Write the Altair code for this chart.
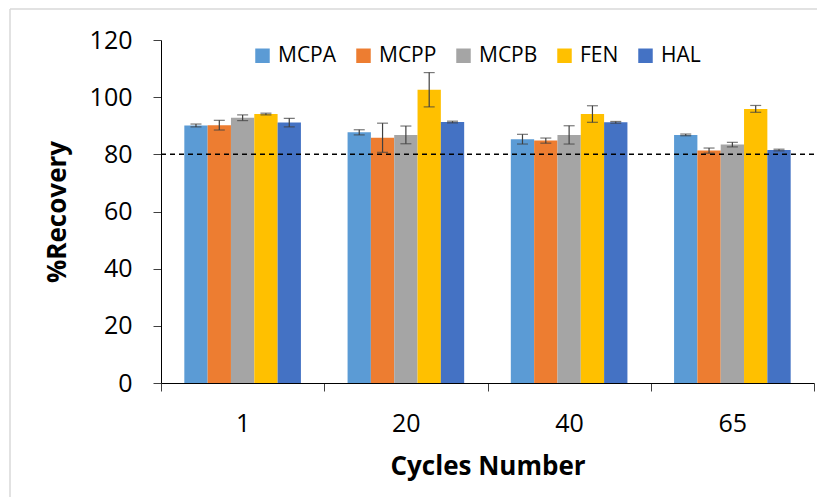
import altair as alt
import pandas as pd

cycles = ["1", "20", "40", "65"]
analytes = ["MCPA", "MCPP", "MCPB", "FEN", "HAL"]
colors = ["#5B9BD5", "#ED7D31", "#A5A5A5", "#FFC000", "#4472C4"]

# recovery means per analyte, one value per cycle
MCPA = [90.1, 87.7, 85.3, 86.8]
MCPP = [90.2, 85.8, 84.8, 81.3]
MCPB = [92.8, 86.8, 86.8, 83.4]
FEN = [94.1, 102.6, 94.1, 95.9]
HAL = [91.1, 91.3, 91.2, 81.5]

# standard deviations
MCPA_sd = [0.5, 0.9, 1.7, 0.3]
MCPP_sd = [1.7, 5.1, 0.9, 0.9]
MCPB_sd = [1.0, 3.1, 3.2, 0.8]
FEN_sd = [0.3, 6.0, 2.9, 1.2]
HAL_sd = [1.5, 0.3, 0.3, 0.3]

threshold = [80]

means = {"MCPA": MCPA, "MCPP": MCPP, "MCPB": MCPB, "FEN": FEN, "HAL": HAL}
sds = {"MCPA": MCPA_sd, "MCPP": MCPP_sd, "MCPB": MCPB_sd, "FEN": FEN_sd, "HAL": HAL_sd}

rows = []
for a in analytes:
    for i, c in enumerate(cycles):
        m = means[a][i]
        s = sds[a][i]
        rows.append({"cycle": c, "analyte": a, "value": m, "lo": m - s, "hi": m + s})
df = pd.DataFrame(rows)

FONT = "Open Sans"

x_scale = alt.Scale(paddingInner=0, paddingOuter=0)
x_enc = alt.X(
    "cycle:N",
    sort=cycles,
    scale=x_scale,
    axis=alt.Axis(
        title="Cycles Number",
        labelAngle=0,
        tickBand="extent",
        tickSize=8,
        labelPadding=20,
        titlePadding=17,
        domainColor="black",
        tickColor="#404040",
    ),
)
xoff = alt.XOffset("analyte:N", sort=analytes, scale=alt.Scale(paddingInner=0, paddingOuter=1))

y_scale = alt.Scale(domain=[0, 120])

bars = alt.Chart(df).mark_bar(width=alt.RelativeBandSize(1)).encode(
    x=x_enc,
    xOffset=xoff,
    y=alt.Y(
        "value:Q",
        scale=y_scale,
        axis=alt.Axis(
            title="%Recovery",
            values=[0, 20, 40, 60, 80, 100, 120],
            grid=False,
            tickSize=8,
            labelPadding=21,
            titlePadding=19,
            domainColor="black",
            tickColor="#404040",
        ),
    ),
    color=alt.Color(
        "analyte:N",
        sort=analytes,
        scale=alt.Scale(domain=analytes, range=colors),
        legend=alt.Legend(
            title=None,
            orient="none",
            legendX=91,
            legendY=5,
            direction="horizontal",
            symbolType="square",
            symbolSize=210,
            symbolStrokeWidth=0,
            labelFontSize=21,
            labelFont=FONT,
            columnPadding=16,
            labelOffset=5,
        ),
    ),
)

rules = alt.Chart(df).mark_rule(color="#404040", strokeWidth=1.2).encode(
    x=alt.X("cycle:N", sort=cycles, scale=x_scale),
    xOffset=xoff,
    y=alt.Y("lo:Q", scale=y_scale),
    y2="hi:Q",
)
caps_lo = alt.Chart(df).mark_tick(color="#404040", thickness=1.2, size=11).encode(
    x=alt.X("cycle:N", sort=cycles, scale=x_scale),
    xOffset=xoff,
    y=alt.Y("lo:Q", scale=y_scale),
)
caps_hi = alt.Chart(df).mark_tick(color="#404040", thickness=1.2, size=11).encode(
    x=alt.X("cycle:N", sort=cycles, scale=x_scale),
    xOffset=xoff,
    y=alt.Y("hi:Q", scale=y_scale),
)

dash = alt.Chart(pd.DataFrame({"t": threshold})).mark_rule(
    color="black", strokeDash=[5, 4], strokeWidth=1.5
).encode(y=alt.Y("t:Q", scale=y_scale))

frame_v = alt.Chart(pd.DataFrame({"d": [0]})).mark_rule(color="#d9d9d9", strokeWidth=1.5).encode(
    x=alt.value(-151), y=alt.value(-31), y2=alt.value(460)
)
frame_h = alt.Chart(pd.DataFrame({"d": [0]})).mark_rule(color="#d9d9d9", strokeWidth=1.5).encode(
    x=alt.value(-151), x2=alt.value(660), y=alt.value(-31)
)

chart = (
    alt.layer(frame_v, frame_h, bars, dash, rules, caps_lo, caps_hi)
    .properties(
        width=653,
        height=343,
        padding={"left": 161, "top": 40, "right": 3, "bottom": 114},
        autosize=alt.AutoSizeParams(type="none"),
        background="white",
    )
    .configure_view(stroke=None)
    .configure_axis(
        labelFont=FONT,
        labelFontSize=25,
        labelColor="#000000",
        titleFont=FONT,
        titleFontSize=26,
        titleFontWeight="bold",
        titleColor="#000000",
    )
)

chart.save("out.html", embed_options={"renderer": "svg", "actions": False})
